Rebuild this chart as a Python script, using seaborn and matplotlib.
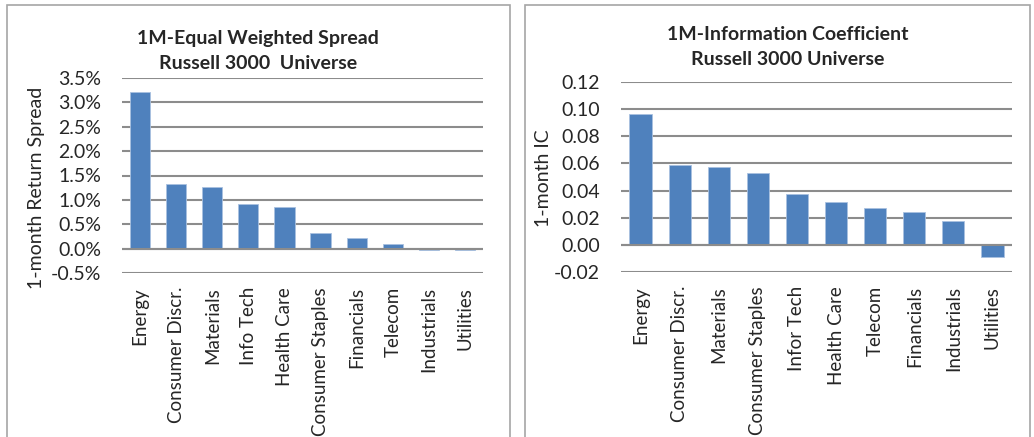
import matplotlib
matplotlib.use("Agg")
import matplotlib.pyplot as plt
import matplotlib.ticker as mticker
from matplotlib.patches import Rectangle
import seaborn as sns

sns.set_theme(style="white")
plt.rcParams["font.family"] = ["Lato", "DejaVu Sans"]

# left panel: 1M equal weighted spread (in %)
spread_sectors = ["Energy", "Consumer Discr.", "Materials", "Info Tech", "Health Care",
                  "Consumer Staples", "Financials", "Telecom", "Industrials", "Utilities"]
spread_values = [3.22, 1.33, 1.27, 0.92, 0.86, 0.33, 0.21, 0.09, -0.02, -0.03]

# right panel: 1M information coefficient
ic_sectors = ["Energy", "Consumer Discr.", "Materials", "Consumer Staples", "Infor Tech",
              "Health Care", "Telecom", "Financials", "Industrials", "Utilities"]
ic_values = [0.0965, 0.059, 0.0575, 0.053, 0.0375, 0.0315, 0.027, 0.024, 0.0175, -0.009]

BAR = "#4F81BD"
GRID = "#8C8C8C"

fig = plt.figure(figsize=(10.34, 4.37), dpi=100)
W, H = 1034, 437


def px_axes(x0, y0, x1, y1):
    return fig.add_axes([x0 / W, 1 - y1 / H, (x1 - x0) / W, (y1 - y0) / H])


# panel borders
for x0, x1 in [(7, 510), (525, 1030)]:
    fig.add_artist(Rectangle((x0 / W, -0.05), (x1 - x0) / W, 1.05 - 5 / H,
                             transform=fig.transFigure, fill=False,
                             edgecolor="#A6A6A6", linewidth=1.2))


def style(ax, ticks, fmt, ylabel, label_xy):
    ax.set_ylim(ticks[0], ticks[-1])
    ax.set_yticks(ticks)
    ax.yaxis.set_major_formatter(fmt)
    for t in ticks:
        ax.axhline(t, color=GRID, linewidth=1.5, zorder=0)
    ax.axhline(0, color=GRID, linewidth=1.5, zorder=3)
    for s in ax.spines.values():
        s.set_visible(False)
    ax.tick_params(axis="x", rotation=90, labelsize=13.5, length=0, pad=10)
    ax.tick_params(axis="y", labelsize=14, length=0, pad=15)
    ax.set_xlabel("")
    ax.set_ylabel(ylabel, fontsize=14)
    ax.yaxis.set_label_coords(*label_xy)
    ax.set_facecolor("white")


ax1 = px_axes(122, 78, 483, 273)
sns.barplot(x=spread_sectors, y=spread_values, color=BAR, width=0.56,
            saturation=1, ax=ax1, zorder=2, edgecolor="#A9C1E0", linewidth=0.6)
style(ax1, [-0.5, 0, 0.5, 1.0, 1.5, 2.0, 2.5, 3.0, 3.5],
      mticker.FuncFormatter(lambda v, p: f"{v:.1f}%"),
      "1-month Return Spread", (-0.213, 0.436))

ax2 = px_axes(621, 82, 1012, 272)
sns.barplot(x=ic_sectors, y=ic_values, color=BAR, width=0.57,
            saturation=1, ax=ax2, zorder=2, edgecolor="#A9C1E0", linewidth=0.6)
style(ax2, [-0.02, 0, 0.02, 0.04, 0.06, 0.08, 0.10, 0.12],
      mticker.FuncFormatter(lambda v, p: f"{v:.2f}"),
      "1-month IC", (-0.176, 0.495))

# chart titles
fig.text(258 / W, 1 - 51 / H, "1M-Equal Weighted Spread\nRussell 3000  Universe",
         ha="center", va="center", fontsize=14, fontweight="bold", linespacing=1.55)
fig.text(788 / W, 1 - 47 / H, "1M-Information Coefficient\nRussell 3000 Universe",
         ha="center", va="center", fontsize=14, fontweight="bold", linespacing=1.55)

fig.savefig("out.png", dpi=100, facecolor="white")
